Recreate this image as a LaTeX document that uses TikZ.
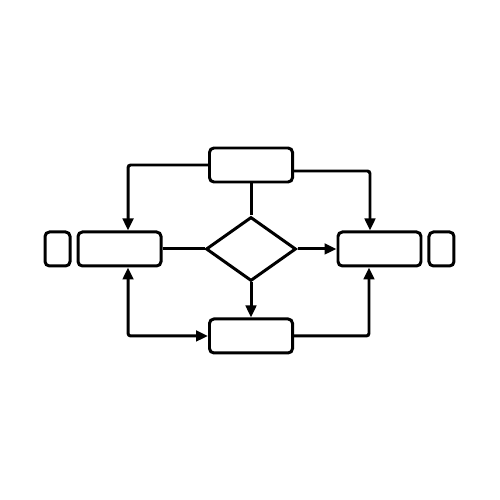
\documentclass[tikz,border=0pt]{standalone}
\usepackage{tikz}
\usetikzlibrary{arrows.meta,shapes.geometric,positioning}
\tikzstyle{line} = [line width=1.7pt, rounded corners=1.5pt]
\tikzstyle{arrow} = [line width=1.7pt, rounded corners=1.5pt, ->, >={Triangle[length=0.24cm,width=0.21cm]}]
\tikzstyle{process} = [rectangle, rounded corners=2.5pt, minimum width=1.66cm, minimum height=0.68cm, inner sep=0pt, draw=black, line width=1.7pt]
\tikzstyle{tab} = [process, minimum width=0.5cm]
\tikzstyle{decision} = [diamond, minimum width=1.8cm, minimum height=1.28cm, inner sep=0pt, draw=black, line width=1.7pt, line join=miter]
\begin{document}
\begin{tikzpicture}[node distance=0.64cm]
\useasboundingbox (0,0) rectangle (10,-10);
% Nodes
\node (topbox) [process] at (5.02,-3.30) {};
\node (choice) [decision, below=of topbox] {};
\node (leftbox) [process, left=0.84cm of choice] {};
\node (lefttab) [tab, left=0.1cm of leftbox] {};
\node (rightbox) [process, right=0.78cm of choice] {};
\node (righttab) [tab, right=0.1cm of rightbox] {};
\node (bottombox) [process, below=0.7cm of choice] {};

% Connectors
\draw[line] (topbox) -- (choice);
\draw[line] (leftbox) -- (choice);
\draw[arrow] (choice) -- (rightbox);
\draw[arrow] (choice) -- (bottombox);
\draw[arrow] (topbox.west) -| ([xshift=0.17cm]leftbox.north);
\draw[arrow] ([yshift=-0.12cm]topbox.east) -| ([xshift=-0.19cm]rightbox.north);
\draw[arrow, <->] ([xshift=0.17cm]leftbox.south) |- (bottombox.west);
\draw[arrow] (bottombox.east) -| ([xshift=-0.21cm]rightbox.south);
\end{tikzpicture}
\end{document}
